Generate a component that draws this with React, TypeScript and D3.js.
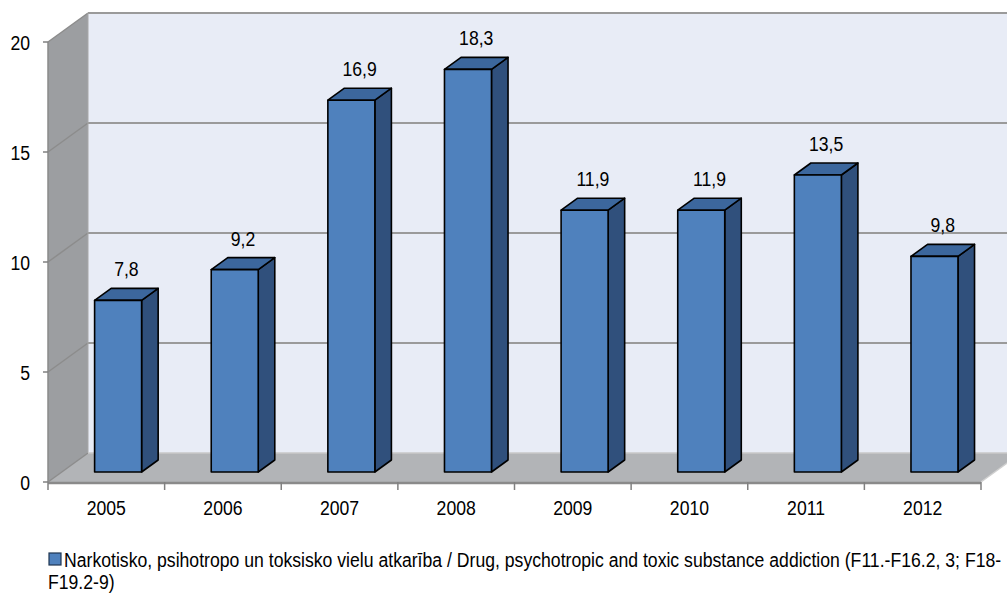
import React from "react";
import * as d3 from "d3";

const categories = ["2005", "2006", "2007", "2008", "2009", "2010", "2011", "2012"];
const values = [7.8, 9.2, 16.9, 18.3, 11.9, 11.9, 13.5, 9.8];
const valueLabels = ["7,8", "9,2", "16,9", "18,3", "11,9", "11,9", "13,5", "9,8"];
const yTicks = [0, 5, 10, 15, 20];
const legendLine1 =
  "Narkotisko, psihotropo un toksisko vielu atkarība / Drug, psychotropic and toxic substance addiction (F11.-F16.2, 3; F18-";
const legendLine2 = "F19.2-9)";

const W = 1007;
const H = 595;
const DX = 40;
const DY = -29;
const FONT = "'Liberation Sans', Arial, sans-serif";
const FS = 21;
const SX = 0.84;

function NText(props: { x: number; y: number; anchor?: string; children: React.ReactNode }) {
  return (
    <text
      transform={`translate(${props.x},${props.y}) scale(${SX},1)`}
      textAnchor={props.anchor || "start"}
      fontFamily={FONT}
      fontSize={FS}
      fill="#000"
      stroke="none"
    >
      {props.children}
    </text>
  );
}

export default function App() {
  const y = d3.scaleLinear().domain([0, 20]).range([482, 42]);
  const x = d3.scaleBand<string>().domain(categories).range([48, 981]);
  const x0 = 48;
  const x1 = 981;
  const yTop = y(20);
  const yBot = y(0);

  const fFront = 10 / 29;
  const fDepth = 12 / 29;
  const bsx = DX * fFront;
  const bsy = DY * fFront;
  const bdx = DX * fDepth;
  const bdy = DY * fDepth;
  const barW = 47;

  const front = "#4F81BD";
  const side = "#30507C";
  const top = "#3C679D";

  return (
    <svg width={W} height={H} style={{ position: "absolute", left: 0, top: 0, background: "#fff" }}>
      <rect x={x0 + DX} y={yTop + DY} width={W - (x0 + DX) + 40} height={yBot - yTop} fill="#E8ECF6" />
      <polygon
        points={`${x0},${yTop} ${x0 + DX},${yTop + DY} ${x0 + DX},${yBot + DY} ${x0},${yBot}`}
        fill="#9C9EA1"
      />
      <polygon
        points={`${x0},${yBot} ${x0 + DX},${yBot + DY} ${x1 + DX},${yBot + DY} ${x1},${yBot}`}
        fill="#B2B4B7"
      />
      {yTicks.map((t) => (
        <g key={t}>
          {t > 0 && (
            <line x1={x0 + DX} x2={W + 10} y1={y(t) + DY} y2={y(t) + DY} stroke="#9A9A9A" strokeWidth={2} />
          )}
          <line x1={x0} x2={x0 + DX} y1={y(t)} y2={y(t) + DY} stroke="#8C8C8C" strokeWidth={1.5} />
        </g>
      ))}
      <line x1={x0 + DX} x2={x0 + DX} y1={yTop + DY} y2={yBot + DY} stroke="#A8A8A8" strokeWidth={1} />
      <line x1={x0 + DX} x2={W + 10} y1={yBot + DY} y2={yBot + DY} stroke="#C8C8C8" strokeWidth={1.5} />
      <line x1={x1} x2={x1 + DX} y1={yBot} y2={yBot + DY} stroke="#D0D0D0" strokeWidth={1.5} />
      <line x1={x0} x2={x1} y1={yBot + 1} y2={yBot + 1} stroke="#8A8A8A" strokeWidth={2.5} />
      <line x1={x0} x2={x0} y1={yTop} y2={yBot} stroke="#8A8A8A" strokeWidth={1.5} />

      {yTicks.map((t) => (
        <g key={"yt" + t}>
          <line x1={x0 - 5} x2={x0} y1={y(t)} y2={y(t)} stroke="#808080" strokeWidth={1.5} />
          <NText x={30} y={y(t) + 7.5} anchor="end">
            {t}
          </NText>
        </g>
      ))}
      {categories.map((c) => (
        <line key={"xt" + c} x1={x(c)!} x2={x(c)!} y1={yBot} y2={yBot + 8} stroke="#808080" strokeWidth={1.5} />
      ))}
      <line x1={x1} x2={x1} y1={yBot} y2={yBot + 8} stroke="#808080" strokeWidth={1.5} />
      {categories.map((c) => (
        <NText key={"xl" + c} x={x(c)! + x.bandwidth() / 2} y={yBot + 33} anchor="middle">
          {c}
        </NText>
      ))}

      {categories.map((c, i) => {
        const cx = x(c)! + x.bandwidth() / 2 + bsx - 2;
        const lx = cx - barW / 2;
        const rx = cx + barW / 2;
        const by = y(0) + bsy;
        const ty = y(values[i]) + bsy;
        return (
          <g key={"b" + c}>
            <g stroke="#000" strokeWidth={1.6} strokeLinejoin="round">
              <polygon
                points={`${rx},${ty} ${rx + bdx},${ty + bdy} ${rx + bdx},${by + bdy} ${rx},${by}`}
                fill={side}
              />
              <polygon
                points={`${lx},${ty} ${lx + bdx},${ty + bdy} ${rx + bdx},${ty + bdy} ${rx},${ty}`}
                fill={top}
              />
              <rect x={lx} y={ty} width={barW} height={by - ty} fill={front} />
            </g>
            <NText x={cx + bdx / 2} y={ty + bdy - 12} anchor="middle">
              {valueLabels[i]}
            </NText>
          </g>
        );
      })}

      <rect x={49} y={553} width={12} height={12} fill={front} stroke="#1F3550" strokeWidth={1.2} />
      <NText x={64} y={567}>
        {legendLine1}
      </NText>
      <NText x={48} y={589}>
        {legendLine2}
      </NText>
    </svg>
  );
}
